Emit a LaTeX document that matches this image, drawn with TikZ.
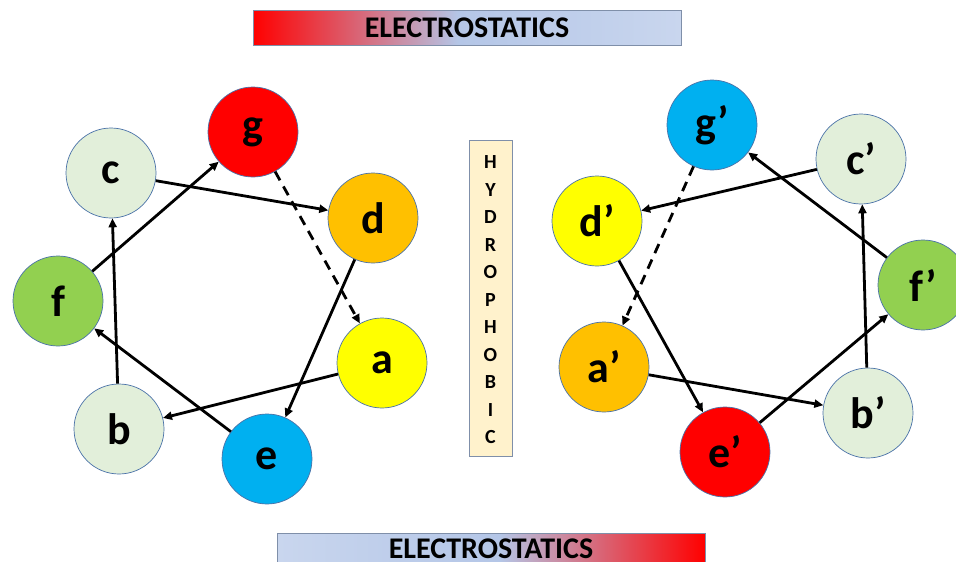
\documentclass[tikz,border=0pt]{standalone}
\usepackage{fontspec}
\setmainfont{Carlito}
\usetikzlibrary{arrows.meta}
\definecolor{cred}{HTML}{FF0000}
\definecolor{corange}{HTML}{FFC000}
\definecolor{cyellow}{HTML}{FFFF00}
\definecolor{cpale}{HTML}{E2EFDA}
\definecolor{cgreen}{HTML}{92D050}
\definecolor{cblue}{HTML}{00B0F0}
\definecolor{cedge}{HTML}{4A72A8}
\definecolor{bandblue}{HTML}{B4C6E7}
\definecolor{bandlight}{HTML}{C9D6EE}
\definecolor{boxfill}{HTML}{FFF2CC}
\definecolor{boxedge}{HTML}{7F8FA9}
\pgfdeclarehorizontalshading{elecLR}{100bp}{color(0bp)=(cred); color(25bp)=(cred); color(49bp)=(bandblue); color(75bp)=(bandlight); color(100bp)=(bandlight)}
\pgfdeclarehorizontalshading{elecRL}{100bp}{color(0bp)=(bandlight); color(25bp)=(bandlight); color(51bp)=(bandblue); color(75bp)=(cred); color(100bp)=(cred)}
\tikzset{
  res/.style={circle, draw=cedge, line width=0.7pt, minimum size=90pt, inner sep=0pt,
    font=\fontsize{44}{44}\selectfont\bfseries, text=black},
  link/.style={line width=2.8pt, -{Triangle[length=9pt,width=8pt]}},
  dlink/.style={link, dash pattern=on 10pt off 7pt},
  band/.style={draw=boxedge, line width=0.8pt},
  bandtext/.style={font=\fontsize{30}{30}\selectfont\bfseries, text=black, inner sep=0pt},
}
\begin{document}
\begin{tikzpicture}[x=1pt, y=-1pt]
\useasboundingbox (0,0) rectangle (956,562);
\clip (0,0) rectangle (956,562);
\fill[white] (0,0) rectangle (956,562);
% banners
\shade[shading=elecLR, band] (253,10) rectangle (681,45);
\node[bandtext] (toplabel) at (467,28) {ELECTROSTATICS};
\shade[shading=elecRL, band] (277,533) rectangle (705,575);
\node[bandtext] (botlabel) at (491,549) {ELECTROSTATICS};
% hydrophobic box
\draw[fill=boxfill, draw=boxedge, line width=0.8pt] (469,140) rectangle (512,456);
\node[font=\fontsize{20}{27.5}\selectfont\bfseries, align=center, inner sep=0pt] (hyd) at (490.5,300)
  {H\\Y\\D\\R\\O\\P\\H\\O\\B\\I\\C};
% left helix
\node[res, fill=cred]    (g) at (253,132) {g};
\node[res, fill=cpale]   (c) at (111,173) {c};
\node[res, fill=corange] (d) at (373,218) {d};
\node[res, fill=cgreen]  (f) at (58,301) {f};
\node[res, fill=cyellow] (a) at (382,363) {a};
\node[res, fill=cpale]   (b) at (119,429) {b};
\node[res, fill=cblue]   (e) at (267,459) {e};
\draw[link] (c) -- (d);
\draw[dlink] (g) -- (a);
\draw[link] (d) -- (e);
\draw[link] (a) -- (b);
\draw[link] (e) -- (f);
\draw[link] (b) -- (c);
\draw[link] (f) -- (g);
% right helix
\node[res, fill=cblue]   (g2) at (712,125) {g’};
\node[res, fill=cpale]   (c2) at (861,159) {c’};
\node[res, fill=cyellow] (d2) at (597,221) {d’};
\node[res, fill=cgreen]  (f2) at (923,285) {f’};
\node[res, fill=corange] (a2) at (604,367) {a’};
\node[res, fill=cred]    (e2) at (725,452) {e’};
\node[res, fill=cpale]   (b2) at (868,413) {b’};
\draw[link] (c2) -- (d2);
\draw[link] (f2) -- (g2);
\draw[dlink] (g2) -- (a2);
\draw[link] (d2) -- (e2);
\draw[link] (a2) -- (b2);
\draw[link] (e2) -- (f2);
\draw[link] (b2) -- (c2);
\end{tikzpicture}
\end{document}
